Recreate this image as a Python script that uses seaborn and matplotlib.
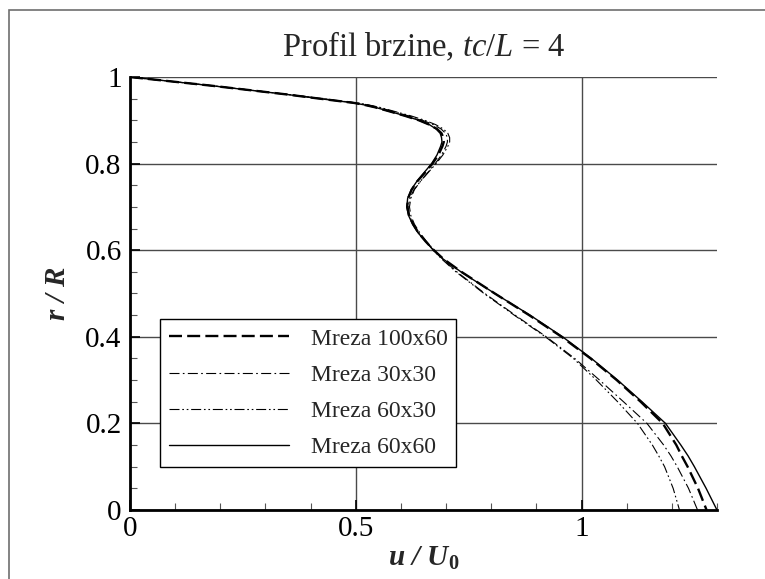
import numpy as np
import pandas as pd
import matplotlib
matplotlib.use("Agg")
import matplotlib.pyplot as plt
from matplotlib.patches import Rectangle
from matplotlib.ticker import MultipleLocator, FormatStrFormatter
import seaborn as sns

# radial positions r/R shared by all grids
r_R = [1.00, 0.98, 0.96, 0.95, 0.94, 0.935, 0.93, 0.92, 0.91, 0.90, 0.89, 0.88,
       0.87, 0.86, 0.85, 0.84, 0.82, 0.80, 0.78, 0.76, 0.74, 0.72, 0.70, 0.68,
       0.66, 0.64, 0.62, 0.60, 0.58, 0.55, 0.50, 0.45, 0.40, 0.35, 0.30, 0.25,
       0.20, 0.15, 0.125, 0.10, 0.05, 0.00]

# u/U0 for each grid resolution
u_100x60 = [0.000, 0.180, 0.345, 0.420, 0.497, 0.522, 0.543, 0.577, 0.610, 0.640,
            0.663, 0.680, 0.690, 0.694, 0.695, 0.692, 0.683, 0.670, 0.654, 0.637,
            0.624, 0.616, 0.614, 0.618, 0.627, 0.639, 0.655, 0.673, 0.694, 0.734,
            0.808, 0.884, 0.956, 1.020, 1.078, 1.131, 1.180, 1.210, 1.222, 1.235,
            1.258, 1.277]
u_30x30 = [0.000, 0.180, 0.348, 0.425, 0.502, 0.528, 0.550, 0.584, 0.618, 0.648,
           0.672, 0.689, 0.699, 0.703, 0.703, 0.700, 0.690, 0.676, 0.660, 0.644,
           0.630, 0.622, 0.619, 0.622, 0.630, 0.642, 0.657, 0.674, 0.692, 0.724,
           0.786, 0.853, 0.922, 0.985, 1.040, 1.093, 1.145, 1.182, 1.198, 1.212,
           1.237, 1.257]
u_60x30 = [0.000, 0.180, 0.348, 0.426, 0.504, 0.531, 0.553, 0.588, 0.623, 0.653,
           0.677, 0.694, 0.704, 0.708, 0.708, 0.704, 0.693, 0.678, 0.661, 0.644,
           0.629, 0.620, 0.616, 0.619, 0.627, 0.639, 0.655, 0.672, 0.690, 0.722,
           0.784, 0.851, 0.920, 0.982, 1.033, 1.080, 1.124, 1.157, 1.171, 1.184,
           1.203, 1.217]
u_60x60 = [0.000, 0.180, 0.345, 0.420, 0.497, 0.522, 0.543, 0.577, 0.610, 0.640,
           0.663, 0.678, 0.687, 0.690, 0.691, 0.688, 0.680, 0.668, 0.652, 0.636,
           0.623, 0.615, 0.613, 0.617, 0.626, 0.638, 0.655, 0.672, 0.693, 0.733,
           0.808, 0.886, 0.958, 1.022, 1.080, 1.134, 1.186, 1.220, 1.236, 1.250,
           1.276, 1.300]

labels = ["Mreza 100x60", "Mreza 30x30", "Mreza 60x30", "Mreza 60x60"]
series = [u_100x60, u_30x30, u_60x30, u_60x60]

styles = {
    "Mreza 100x60": dict(lw=1.7, ls=(0, (5.5, 2.2))),
    "Mreza 30x30": dict(lw=0.8, ls=(0, (9, 3, 1.5, 3))),
    "Mreza 60x30": dict(lw=0.8, ls=(0, (9, 2.5, 1.5, 2.5, 1.5, 2.5))),
    "Mreza 60x60": dict(lw=1.0, ls="-"),
}

df = pd.concat(
    [pd.DataFrame({"u": u, "r": r_R, "mreza": lab}) for lab, u in zip(labels, series)],
    ignore_index=True,
)

sns.set_style("white")
plt.rcParams["font.family"] = ["Liberation Serif", "DejaVu Serif"]
plt.rcParams["mathtext.fontset"] = "custom"
plt.rcParams["mathtext.rm"] = "Liberation Serif"
plt.rcParams["mathtext.it"] = "Liberation Serif:italic"
plt.rcParams["mathtext.bf"] = "Liberation Serif:bold"
plt.rcParams["mathtext.bfit"] = "Liberation Serif:bold:italic"

fig = plt.figure(figsize=(7.65, 5.79), dpi=100)
ax = fig.add_axes([0.1699, 0.1192, 0.7673, 0.7478])

for lab in labels:
    st = styles[lab]
    sns.lineplot(data=df[df["mreza"] == lab], x="u", y="r", sort=False,
                 estimator=None, color="black", linewidth=st["lw"],
                 linestyle=st["ls"], label=lab, ax=ax)

ax.set_xlim(0, 1.3)
ax.set_ylim(0, 1)
ax.xaxis.set_major_locator(MultipleLocator(0.5))
ax.xaxis.set_minor_locator(MultipleLocator(0.1))
ax.yaxis.set_major_locator(MultipleLocator(0.2))
ax.yaxis.set_minor_locator(MultipleLocator(0.05))
ax.xaxis.set_major_formatter(FormatStrFormatter("%g"))
ax.yaxis.set_major_formatter(FormatStrFormatter("%g"))

ax.grid(True, which="major", color="#4a4a4a", linewidth=1.0)
ax.set_axisbelow(True)
for side in ("top", "right"):
    ax.spines[side].set_visible(False)
for side in ("left", "bottom"):
    ax.spines[side].set_color("black")
    ax.spines[side].set_linewidth(2.0)
    ax.spines[side].set_zorder(5)

ax.tick_params(which="major", direction="in", length=7, width=1.2,
               labelsize=21, colors="black", left=True, bottom=True)
ax.tick_params(which="minor", direction="in", length=5, width=0.8,
               colors="#555555", left=True, bottom=True)
ax.tick_params(axis="y", which="major", pad=6)
ax.tick_params(axis="x", which="major", pad=4)

ax.set_xlabel(r"u / U$_{\mathbf{0}}$", fontsize=21, fontweight="bold",
              fontstyle="italic", labelpad=2)
ax.set_ylabel("r / R", fontsize=21, fontweight="bold", fontstyle="italic",
              labelpad=10)
ax.set_title(r"Profil brzine, $tc/L$ = 4", fontsize=23.5, pad=15)

leg = ax.legend(loc="lower left", bbox_to_anchor=(0.051, 0.099),
                borderaxespad=0, fontsize=17, frameon=True, fancybox=False,
                framealpha=1, edgecolor="black", handlelength=5.1,
                handletextpad=0.9, labelspacing=0.62, borderpad=0.38)
leg.get_frame().set_linewidth(1.0)

# outer frame of the figure
fig.patches.append(Rectangle((9 / 765, -0.2), 1.2, 1.2 - 10 / 579,
                             transform=fig.transFigure, fill=False,
                             edgecolor="#6e6e6e", linewidth=1.2))

fig.savefig("out.png", dpi=100)
